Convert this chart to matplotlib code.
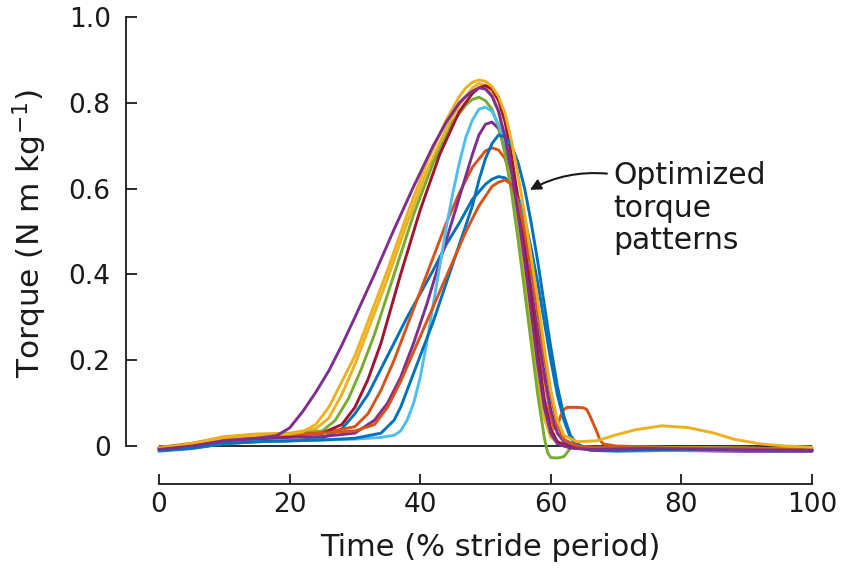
import matplotlib
matplotlib.use('Agg')
import matplotlib.pyplot as plt

# MATLAB default line colours
BLUE = '#0072BD'
ORANGE = '#D95319'
YELLOW = '#EDB120'
PURPLE = '#7E2F8E'
GREEN = '#77AC30'
LIGHT_BLUE = '#4DBEEE'
DARK_RED = '#A2142F'
INK = '#1a1a1a'

# torque curves: time (% stride), torque (N m kg^-1)
blue_b_t = [0, 5, 10, 15, 20, 25, 28, 30, 32, 34, 36, 38, 40, 42, 44, 46, 48, 50, 51, 52, 53, 54, 55, 56, 57,
            58, 59, 60, 61, 62, 63, 64, 66, 70, 80, 90, 100]
blue_b_tq = [-0.012, -0.006, 0.005, 0.01, 0.012, 0.018, 0.04, 0.075, 0.12, 0.18, 0.24, 0.30, 0.355, 0.41, 0.47,
             0.52, 0.575, 0.61, 0.622, 0.628, 0.625, 0.61, 0.58, 0.53, 0.46, 0.38, 0.29, 0.20, 0.12, 0.06, 0.02,
             0.0, -0.01, -0.012, -0.01, -0.012, -0.012]

orange_a_t = [0, 5, 10, 15, 20, 25, 30, 32, 34, 36, 38, 40, 42, 44, 46, 48, 50, 51, 52, 53, 54, 55, 56, 57, 58,
              59, 60, 60.5, 61, 61.5, 62, 62.5, 64, 65, 65.5, 66, 67, 67.5, 68, 70, 80, 90, 100]
orange_a_tq = [-0.004, 0.006, 0.02, 0.026, 0.028, 0.03, 0.045, 0.075, 0.13, 0.2, 0.28, 0.36, 0.44, 0.52, 0.59,
               0.65, 0.688, 0.695, 0.69, 0.67, 0.62, 0.55, 0.46, 0.36, 0.26, 0.16, 0.07, 0.04, 0.045, 0.07, 0.085,
               0.09, 0.09, 0.089, 0.085, 0.07, 0.035, 0.015, 0.005, 0.0, -0.004, -0.005, -0.008]

yellow_b_t = [0, 5, 10, 15, 20, 24, 26, 28, 30, 32, 35, 38, 41, 44, 46, 48, 49, 50, 51, 52, 53, 54, 55, 56, 57,
              58, 59, 60, 62, 66, 75, 90, 100]
yellow_b_tq = [-0.003, 0.006, 0.022, 0.028, 0.03, 0.04, 0.065, 0.12, 0.19, 0.27, 0.39, 0.52, 0.64, 0.74, 0.795,
               0.835, 0.845, 0.84, 0.82, 0.78, 0.71, 0.62, 0.50, 0.38, 0.26, 0.15, 0.065, 0.02, 0.0, -0.005,
               -0.003, -0.005, -0.008]

purple_b_t = [0, 5, 10, 15, 20, 25, 30, 33, 35, 37, 39, 41, 43, 45, 47, 48, 49, 50, 51, 52, 53, 54, 55, 56, 57,
              58, 59, 60, 61, 62, 64, 67, 75, 90, 100]
purple_b_tq = [-0.008, -0.002, 0.01, 0.016, 0.02, 0.022, 0.03, 0.06, 0.1, 0.16, 0.24, 0.33, 0.43, 0.53, 0.63,
               0.68, 0.725, 0.75, 0.755, 0.74, 0.70, 0.64, 0.56, 0.47, 0.37, 0.27, 0.17, 0.085, 0.03, 0.01,
               -0.005, -0.01, -0.01, -0.012, -0.012]

green_t = [0, 5, 10, 15, 20, 25, 27, 29, 31, 33, 36, 39, 42, 45, 47, 48, 49, 50, 51, 52, 53, 54, 55, 56, 57, 58,
           59, 59.5, 60, 61, 62, 63, 64, 66, 75, 90, 100]
green_tq = [-0.005, 0.004, 0.018, 0.025, 0.028, 0.035, 0.06, 0.11, 0.18, 0.26, 0.40, 0.54, 0.66, 0.755, 0.795,
            0.808, 0.813, 0.805, 0.785, 0.745, 0.68, 0.59, 0.48, 0.36, 0.24, 0.12, 0.02, -0.015, -0.027, -0.028,
            -0.025, -0.005, 0.0, -0.003, -0.004, -0.005, -0.008]

light_blue_t = [0, 5, 10, 15, 20, 25, 30, 34, 36, 37, 38, 39, 40, 41, 42, 43, 44, 45, 46, 47, 48, 49, 50, 51, 52,
                53, 54, 55, 56, 57, 58, 59, 60, 61, 62, 64, 67, 75, 90, 100]
light_blue_tq = [-0.01, -0.004, 0.006, 0.01, 0.012, 0.014, 0.016, 0.02, 0.025, 0.035, 0.06, 0.1, 0.16, 0.24, 0.33,
                 0.42, 0.51, 0.59, 0.66, 0.72, 0.76, 0.785, 0.79, 0.78, 0.75, 0.71, 0.65, 0.58, 0.50, 0.41, 0.31,
                 0.21, 0.12, 0.05, 0.015, 0.0, -0.008, -0.01, -0.01, -0.01]

dark_red_t = [0, 5, 10, 15, 20, 25, 28, 30, 32, 34, 37, 40, 43, 46, 48, 49, 50, 51, 52, 53, 54, 55, 56, 57, 58,
              59, 60, 61, 63, 66, 75, 90, 100]
dark_red_tq = [-0.006, 0.003, 0.016, 0.022, 0.025, 0.03, 0.05, 0.09, 0.155, 0.24, 0.40, 0.55, 0.68, 0.78, 0.822,
               0.835, 0.84, 0.832, 0.805, 0.755, 0.675, 0.575, 0.46, 0.34, 0.22, 0.11, 0.04, 0.01, -0.003,
               -0.005, -0.005, -0.008, -0.01]

blue_a_t = [0, 5, 10, 15, 20, 25, 30, 34, 36, 37, 38, 39, 40, 41, 42, 44, 46, 48, 49, 50, 51, 52, 53, 54, 55, 56,
            57, 58, 59, 60, 61, 62, 63, 64, 66, 70, 80, 90, 100]
blue_a_tq = [-0.01, -0.005, 0.006, 0.01, 0.012, 0.014, 0.018, 0.03, 0.06, 0.09, 0.13, 0.17, 0.21, 0.25, 0.29,
             0.38, 0.47, 0.56, 0.62, 0.67, 0.705, 0.725, 0.72, 0.70, 0.66, 0.60, 0.52, 0.43, 0.33, 0.23, 0.14,
             0.07, 0.025, 0.005, -0.008, -0.01, -0.008, -0.01, -0.01]

orange_b_t = [0, 5, 10, 15, 20, 25, 30, 33, 35, 37, 39, 41, 43, 45, 47, 49, 51, 52, 53, 54, 55, 56, 57, 58, 59,
              60, 61, 62, 64, 67, 75, 90, 100]
orange_b_tq = [-0.004, 0.005, 0.018, 0.024, 0.027, 0.03, 0.035, 0.05, 0.09, 0.15, 0.22, 0.29, 0.36, 0.43, 0.50,
               0.56, 0.605, 0.615, 0.62, 0.61, 0.57, 0.50, 0.41, 0.31, 0.21, 0.12, 0.05, 0.015, 0.0, -0.004,
               -0.005, -0.006, -0.008]

yellow_a_t = [0, 5, 10, 15, 20, 22, 24, 26, 28, 30, 32, 35, 38, 41, 44, 46, 47, 48, 49, 50, 51, 52, 53, 54, 55,
              56, 57, 58, 59, 60, 61, 62, 64, 67, 70, 73, 77, 81, 85, 88, 92, 96, 100]
yellow_a_tq = [-0.005, 0.005, 0.02, 0.025, 0.028, 0.033, 0.05, 0.09, 0.15, 0.21, 0.29, 0.41, 0.54, 0.66, 0.76,
               0.815, 0.835, 0.848, 0.853, 0.85, 0.838, 0.815, 0.775, 0.71, 0.63, 0.54, 0.44, 0.34, 0.23, 0.13,
               0.06, 0.025, 0.01, 0.012, 0.026, 0.038, 0.047, 0.043, 0.03, 0.016, 0.005, 0.0, -0.003]

purple_a_t = [0, 5, 10, 15, 18, 20, 22, 24, 26, 28, 30, 33, 36, 39, 42, 44, 46, 47, 48, 49, 50, 51, 52, 53, 54,
              55, 56, 57, 58, 59, 60, 61, 63, 66, 75, 90, 100]
purple_a_tq = [-0.008, 0.0, 0.012, 0.018, 0.024, 0.042, 0.08, 0.125, 0.175, 0.235, 0.30, 0.40, 0.505, 0.605, 0.70,
               0.755, 0.80, 0.815, 0.827, 0.835, 0.832, 0.815, 0.78, 0.72, 0.64, 0.54, 0.43, 0.31, 0.19, 0.09,
               0.03, 0.005, -0.005, -0.008, -0.006, -0.009, -0.01]

curves = [
    (blue_b_t, blue_b_tq, BLUE),
    (orange_a_t, orange_a_tq, ORANGE),
    (yellow_b_t, yellow_b_tq, YELLOW),
    (purple_b_t, purple_b_tq, PURPLE),
    (green_t, green_tq, GREEN),
    (light_blue_t, light_blue_tq, LIGHT_BLUE),
    (dark_red_t, dark_red_tq, DARK_RED),
    (blue_a_t, blue_a_tq, BLUE),
    (orange_b_t, orange_b_tq, ORANGE),
    (yellow_a_t, yellow_a_tq, YELLOW),
    (purple_a_t, purple_a_tq, PURPLE),
]

x_ticks = [0, 20, 40, 60, 80, 100]
y_ticks = [0, 0.2, 0.4, 0.6, 0.8, 1.0]
y_tick_labels = ['0', '0.2', '0.4', '0.6', '0.8', '1.0']

plt.rcParams['font.family'] = ['DejaVu Sans']

W, H = 842, 568
fig = plt.figure(figsize=(W / 100, H / 100), dpi=100)
# axes box in pixels: y spine at x=126, x spine at y=484, top at y=17, x=100% at 812
ax = fig.add_axes([126 / W, (H - 484) / H, (812 - 126) / W, (484 - 17) / H])
ax.set_xlim(-5.05, 100)
ax.set_ylim(-0.0886, 1.0)

ax.hlines(0, blue_b_t[0], blue_b_t[-1], color=INK, linewidth=1.3, zorder=1)
for t, tq, c in curves:
    ax.plot(t, tq, color=c, linewidth=2.1, solid_capstyle='round', solid_joinstyle='round',
            zorder=2, clip_on=False)

for side in ('top', 'right'):
    ax.spines[side].set_visible(False)
ax.spines['left'].set_bounds(0, 1)
ax.spines['bottom'].set_bounds(0, 100)
for side in ('left', 'bottom'):
    ax.spines[side].set_color(INK)
    ax.spines[side].set_linewidth(1.3)

ax.set_xticks(x_ticks)
ax.set_yticks(y_ticks)
ax.set_yticklabels(y_tick_labels)
ax.tick_params(axis='y', direction='in', length=8, width=1.3, pad=11, labelsize=19, colors=INK)
ax.tick_params(axis='x', direction='in', length=7, width=1.3, pad=6, labelsize=19, colors=INK)

fig.text(30 / W, 1 - 234 / H, 'Torque (N m kg$^{-1}$)', rotation=90, ha='center', va='center',
         fontsize=22.5, color=INK)
fig.text(490 / W, 1 - 548 / H, 'Time (% stride period)', ha='center', va='center', fontsize=22, color=INK)

ax.text(69.6, 0.664, 'Optimized\ntorque\npatterns', ha='left', va='top', fontsize=21.5,
        linespacing=1.15, color=INK)
ax.annotate('', xy=(56.8, 0.597), xytext=(68.6, 0.635),
            arrowprops=dict(arrowstyle='-|>', color=INK, lw=1.5, mutation_scale=16,
                            connectionstyle='arc3,rad=0.15', shrinkA=0, shrinkB=0))

fig.savefig('out.png', dpi=100, facecolor='white')
